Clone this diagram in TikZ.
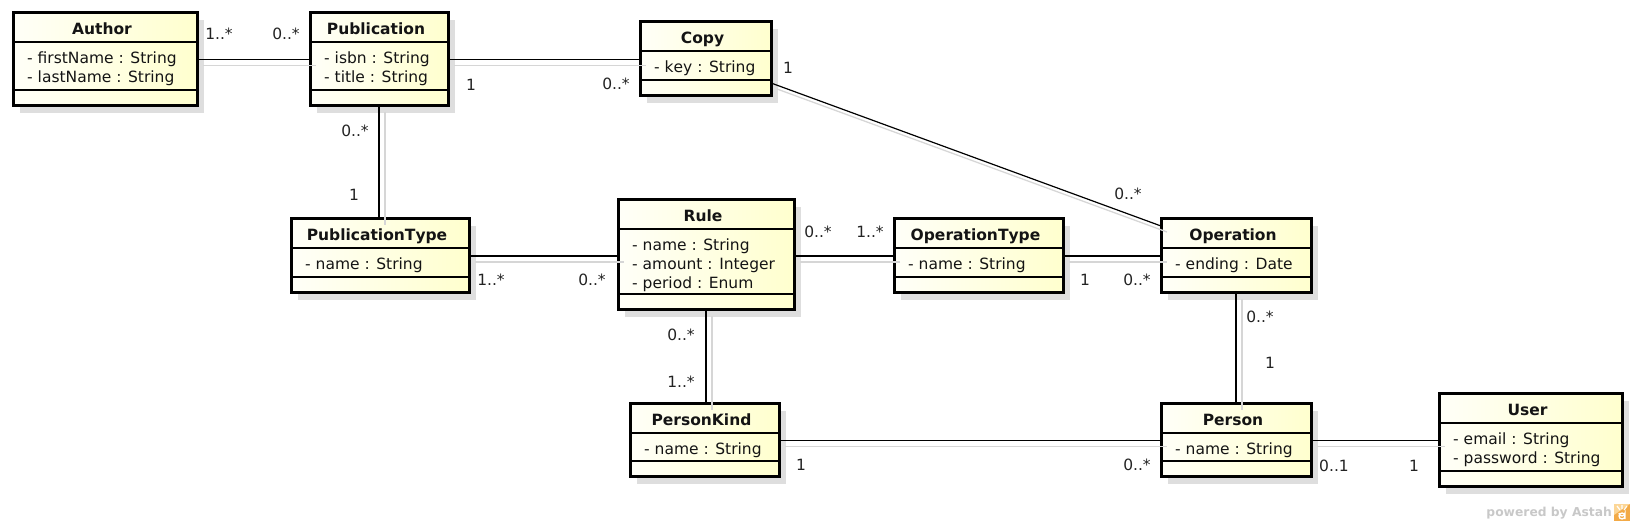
\documentclass[tikz,border=0pt]{standalone}
\usepackage{fontspec}
\setmainfont{DejaVu Sans}[Kerning=Off]
\usetikzlibrary{calc}
\definecolor{shadowc}{RGB}{222,222,222}
\definecolor{lineshadow}{RGB}{214,214,214}
\definecolor{fillA}{RGB}{255,255,248}
\definecolor{fillB}{RGB}{255,255,206}
\definecolor{txt}{RGB}{20,20,20}
\definecolor{labelc}{RGB}{35,35,35}
\definecolor{wm}{RGB}{200,200,200}
\definecolor{astahorange}{RGB}{243,170,70}
\definecolor{astahlight}{RGB}{252,214,150}

\tikzset{
  clsbox/.style={draw=black, line width=3pt, left color=fillA, right color=fillB, outer sep=0pt, inner sep=0pt},
  sepline/.style={draw=black, line width=1.3pt},
  clstitle/.style={font=\bfseries\fontsize{15.5}{18}\selectfont, text=txt, inner sep=0pt, anchor=base},
  clsattr/.style={font=\fontsize{15.5}{18}\selectfont, text=txt, inner sep=0pt, anchor=base west},
  mult/.style={font=\fontsize{15.5}{18}\selectfont, text=labelc, inner sep=0pt},
  assoc/.style={draw=black, line width=1.2pt,
    preaction={draw=lineshadow, line width=1.3pt, transform canvas={shift={(6pt,-6pt)}}}},
}

% name, x, y, w, h, title, attribute list
\newcommand{\umlclass}[7]{%
  \fill[shadowc] (#2+7,#3+7) rectangle ++(#4,#5);
  \node[clsbox, minimum width=#4pt, minimum height=#5pt, anchor=north west] (#1) at (#2,#3) {};
  \draw[sepline] (#2,#3+29) -- ++(#4,0);
  \draw[sepline] (#2,#3+#5-16) -- ++(#4,0);
  \node[clstitle] (#1-title) at (#2+#4/2-3,#3+21.5) {#6};
  \foreach \a [count=\i] in {#7} {
    \node[clsattr] (#1-attr\i) at (#2+14,{#3+29+22+(\i-1)*18.7}) {\a};
  }
}

\begin{document}
\begin{tikzpicture}[x=1pt,y=-1pt]
\useasboundingbox (0,0) rectangle (1634,526);

% classes
\umlclass{author}{13}{13}{184}{93}{Author}{- firstName : String,- lastName : String}
\umlclass{publication}{310}{13}{138}{93}{Publication}{- isbn : String,- title : String}
\umlclass{copy}{640}{22}{131}{74}{Copy}{- key : String}
\umlclass{publicationtype}{291}{219}{178}{74}{PublicationType}{- name : String}
\umlclass{rule}{618}{200}{176}{110}{Rule}{- name : String,- amount : Integer,- period : Enum}
\umlclass{operationtype}{894}{219}{169}{74}{OperationType}{- name : String}
\umlclass{operation}{1161}{219}{150}{74}{Operation}{- ending : Date}
\umlclass{personkind}{630}{404}{149}{73}{PersonKind}{- name : String}
\umlclass{person}{1161}{404}{150}{73}{Person}{- name : String}
\umlclass{user}{1439}{394}{183}{93}{User}{- email : String,- password : String}

% associations
\draw[assoc] (author) -- (publication);
\draw[assoc] (publication.east) -- (publication.east -| copy.west);
\draw[assoc] ($(copy.south east)+(0,-13)$) -- ($(operation.north west)+(0,7)$);
\draw[assoc] (publication.south) -- (publication.south |- publicationtype.north);
\draw[assoc] (publicationtype.east) -- (publicationtype.east -| rule.west);
\draw[assoc] (operationtype.west) -- (operationtype.west -| rule.east);
\draw[assoc] (operationtype) -- (operation);
\draw[assoc] (rule.south) -- (rule.south |- personkind.north);
\draw[assoc] (operation) -- (person);
\draw[assoc] (personkind.east) -- (personkind.east -| person.west);
\draw[assoc] (person.east) -- (person.east -| user.west);

% multiplicities
\node[mult] (m1) at (219,34) {1..*};
\node[mult] (m2) at (286,34) {0..*};
\node[mult] (m3) at (471,85) {1};
\node[mult] (m4) at (616,84) {0..*};
\node[mult] (m5) at (788,68) {1};
\node[mult] (m6) at (1128,194) {0..*};
\node[mult] (m7) at (355,131) {0..*};
\node[mult] (m8) at (354,195) {1};
\node[mult] (m9) at (491,280) {1..*};
\node[mult] (m10) at (592,280) {0..*};
\node[mult] (m11) at (818,232) {0..*};
\node[mult] (m12) at (870,232) {1..*};
\node[mult] (m13) at (1085,280) {1};
\node[mult] (m14) at (1137,280) {0..*};
\node[mult] (m15) at (681,335) {0..*};
\node[mult] (m16) at (681,382) {1..*};
\node[mult] (m17) at (1260,317) {0..*};
\node[mult] (m18) at (1270,363) {1};
\node[mult] (m19) at (801,465) {1};
\node[mult] (m20) at (1137,465) {0..*};
\node[mult] (m21) at (1334,466) {0..1};
\node[mult] (m22) at (1414,466) {1};

% watermark
\node[font=\bfseries\fontsize{12.3}{14}\selectfont, text=wm, anchor=east, inner sep=0pt] (wmark) at (1612,513) {powered by Astah};
\fill[astahorange] (1614,504) rectangle (1630,521);
\fill[astahlight] (1614,504) -- (1630,504) -- (1614,515) -- cycle;
\draw[white, line width=1.2pt] (1617,506) -- (1620,510) (1622,505) -- (1622,509) (1627,506) -- (1624,510);
\draw[white, line width=1.3pt] (1625,519) -- (1625,513) arc[start angle=0, end angle=180, radius=3] (1625,516) arc[start angle=0, end angle=360, radius=3];
\end{tikzpicture}
\end{document}
